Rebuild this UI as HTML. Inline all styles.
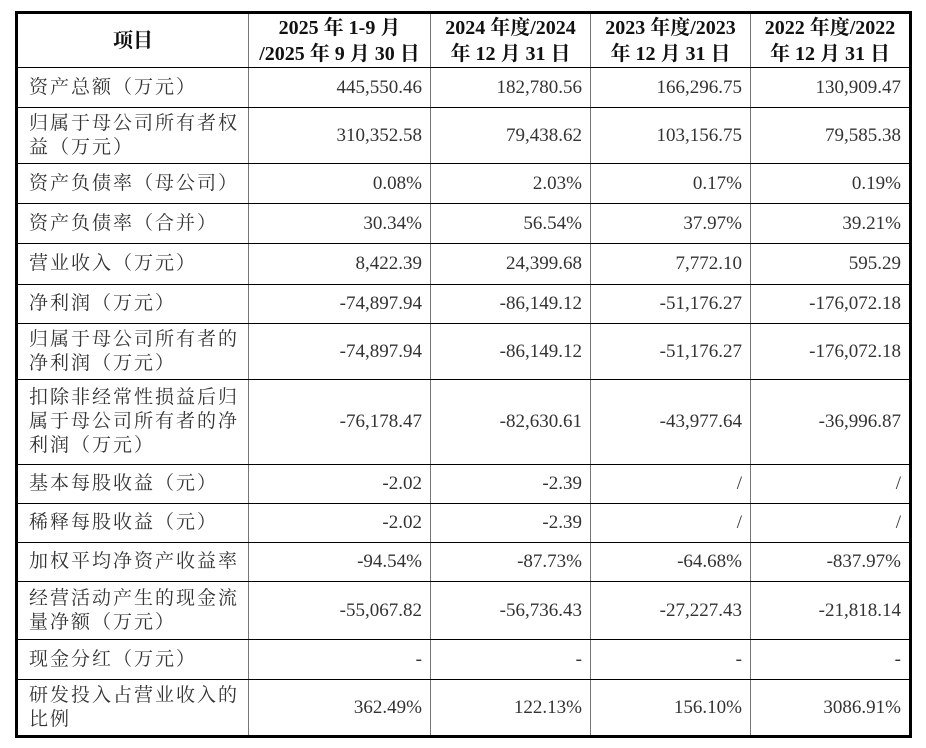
<!DOCTYPE html>
<html><head><meta charset="utf-8"><style>
body{margin:0;background:#fff;width:926px;height:748px;overflow:hidden}
table{position:absolute;left:15px;top:11px;border-collapse:collapse;table-layout:fixed;border:3px solid #000;
font-family:"Liberation Serif","Noto Serif CJK SC",serif;font-size:19px;color:#333}
td{border:1px solid #000;border-left:1.5px solid #777;border-right:1.5px solid #777;padding:0 8px 0 11px;line-height:24px;text-align:right;white-space:nowrap}
td:first-child{text-align:left;letter-spacing:2px;white-space:normal;padding-right:4px}
tr.h td{text-align:center;font-weight:bold;color:#111;line-height:26px;padding:0;font-size:20px}
</style></head><body>
<table>
<colgroup><col style="width:232px"><col style="width:182px"><col style="width:160px"><col style="width:160px"><col style="width:160px"></colgroup>
<tr class="h" style="height:55px"><td style="text-align:center;letter-spacing:0">项目</td><td>2025 年 1-9 月<br>/2025 年 9 月 30 日</td><td>2024 年度/2024<br>年 12 月 31 日</td><td>2023 年度/2023<br>年 12 月 31 日</td><td>2022 年度/2022<br>年 12 月 31 日</td></tr>
<tr style="height:40px"><td>资产总额（万元）</td><td>445,550.46</td><td>182,780.56</td><td>166,296.75</td><td>130,909.47</td></tr>
<tr style="height:56px"><td>归属于母公司所有者权<br>益（万元）</td><td>310,352.58</td><td>79,438.62</td><td>103,156.75</td><td>79,585.38</td></tr>
<tr style="height:40px"><td>资产负债率（母公司）</td><td>0.08%</td><td>2.03%</td><td>0.17%</td><td>0.19%</td></tr>
<tr style="height:40px"><td>资产负债率（合并）</td><td>30.34%</td><td>56.54%</td><td>37.97%</td><td>39.21%</td></tr>
<tr style="height:41px"><td>营业收入（万元）</td><td>8,422.39</td><td>24,399.68</td><td>7,772.10</td><td>595.29</td></tr>
<tr style="height:39px"><td>净利润（万元）</td><td>-74,897.94</td><td>-86,149.12</td><td>-51,176.27</td><td>-176,072.18</td></tr>
<tr style="height:56px"><td>归属于母公司所有者的<br>净利润（万元）</td><td>-74,897.94</td><td>-86,149.12</td><td>-51,176.27</td><td>-176,072.18</td></tr>
<tr style="height:85px"><td>扣除非经常性损益后归<br>属于母公司所有者的净<br>利润（万元）</td><td>-76,178.47</td><td>-82,630.61</td><td>-43,977.64</td><td>-36,996.87</td></tr>
<tr style="height:39px"><td>基本每股收益（元）</td><td>-2.02</td><td>-2.39</td><td>/</td><td>/</td></tr>
<tr style="height:39px"><td>稀释每股收益（元）</td><td>-2.02</td><td>-2.39</td><td>/</td><td>/</td></tr>
<tr style="height:39px"><td>加权平均净资产收益率</td><td>-94.54%</td><td>-87.73%</td><td>-64.68%</td><td>-837.97%</td></tr>
<tr style="height:58px"><td>经营活动产生的现金流<br>量净额（万元）</td><td>-55,067.82</td><td>-56,736.43</td><td>-27,227.43</td><td>-21,818.14</td></tr>
<tr style="height:40px"><td>现金分红（万元）</td><td>-</td><td>-</td><td>-</td><td>-</td></tr>
<tr style="height:57px"><td>研发投入占营业收入的<br>比例</td><td>362.49%</td><td>122.13%</td><td>156.10%</td><td>3086.91%</td></tr>
</table>
</body></html>
